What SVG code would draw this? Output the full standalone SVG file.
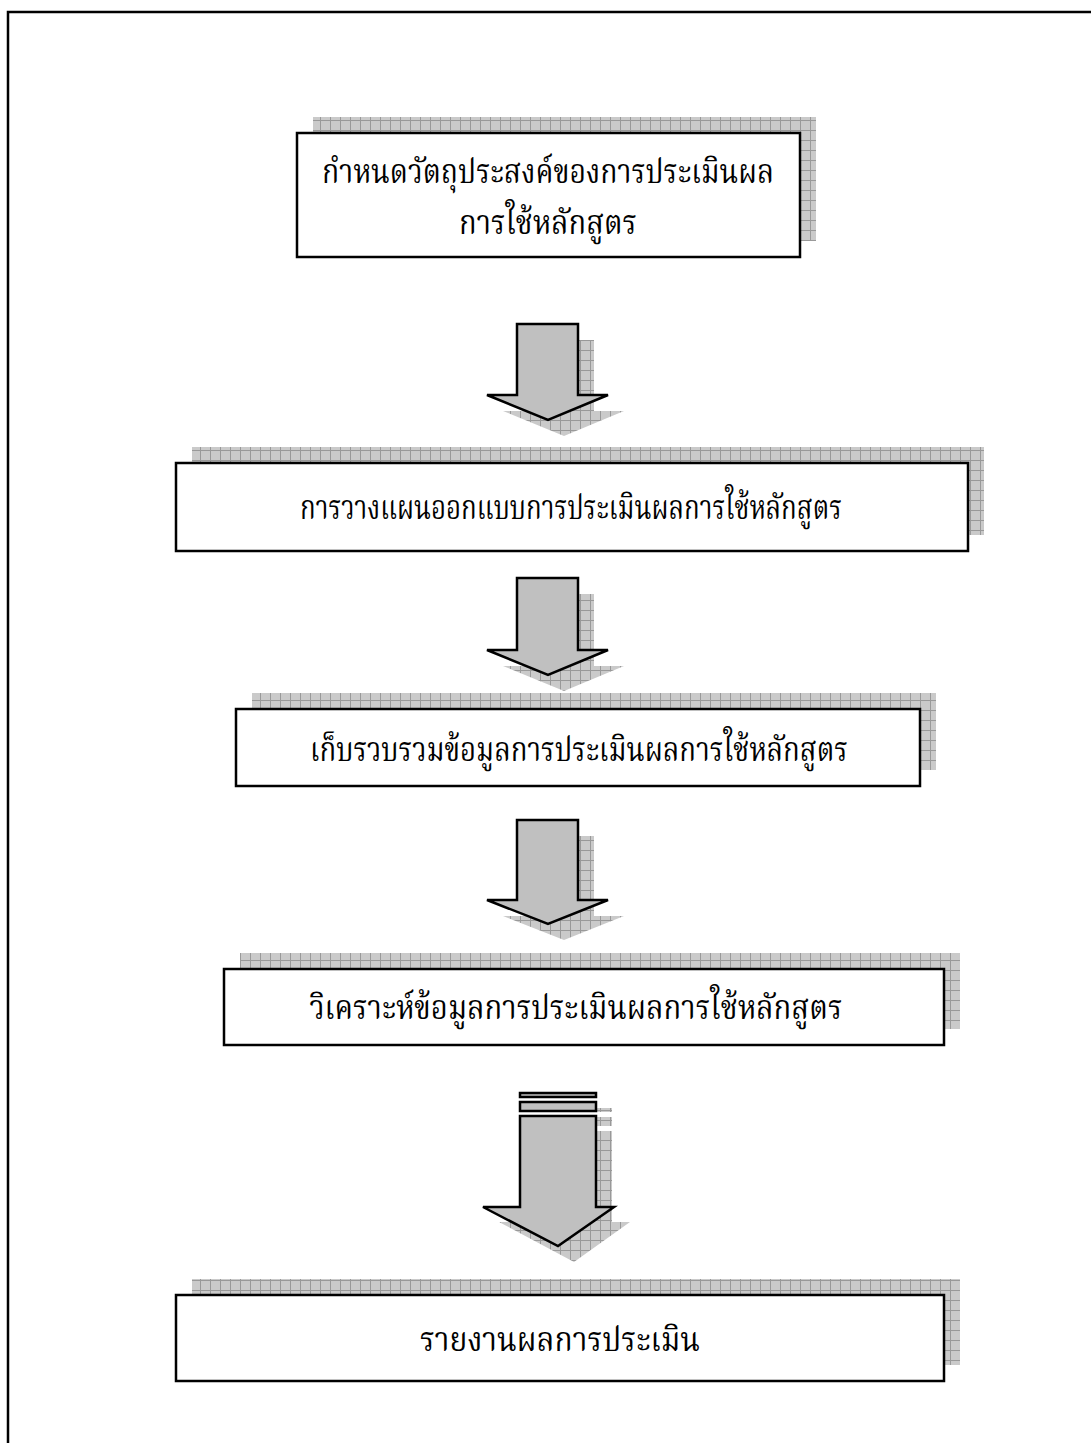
<svg xmlns="http://www.w3.org/2000/svg" width="1091" height="1443" viewBox="0 0 1091 1443">
<style>
.box{fill:#fff;stroke:#000;stroke-width:2.5}
.shadow{fill:url(#grid)}
.arrow{fill:#c0c0c0;stroke:#000;stroke-width:2.5;stroke-linejoin:miter}
.lbl{font-family:"Noto Serif Thai","Noto Sans Thai","Tlwg Typo","Garuda","Loma","Liberation Serif","DejaVu Sans",serif;font-size:33px;fill:#000;text-anchor:middle}
</style>
<defs>
<pattern id="grid" width="10" height="10" patternUnits="userSpaceOnUse">
<rect width="10" height="10" fill="#cacaca"/>
<path d="M0,0.5H10M0.5,0V10" stroke="#999" stroke-width="1"/>
</pattern>
</defs>
<rect width="1091" height="1443" fill="#fff"/>
<path d="M8,1443V12H1091" fill="none" stroke="#000" stroke-width="2.5"/>

<g id="node1">
<rect class="shadow" x="313" y="117" width="503" height="124"/>
<rect class="box" x="297" y="133" width="503" height="124"/>
<text class="lbl" x="548" y="183" textLength="452" lengthAdjust="spacingAndGlyphs">กำหนดวัตถุประสงค์ของการประเมินผล</text>
<text class="lbl" x="548" y="234" textLength="178" lengthAdjust="spacingAndGlyphs">การใช้หลักสูตร</text>
</g>

<g id="node2">
<rect class="shadow" x="192" y="447" width="792" height="88"/>
<rect class="box" x="176" y="463" width="792" height="88"/>
<text class="lbl" x="571" y="519" textLength="542" lengthAdjust="spacingAndGlyphs">การวางแผนออกแบบการประเมินผลการใช้หลักสูตร</text>
</g>

<g id="node3">
<rect class="shadow" x="252" y="693" width="684" height="77"/>
<rect class="box" x="236" y="709" width="684" height="77"/>
<text class="lbl" x="579" y="761" textLength="538" lengthAdjust="spacingAndGlyphs">เก็บรวบรวมข้อมูลการประเมินผลการใช้หลักสูตร</text>
</g>

<g id="node4">
<rect class="shadow" x="240" y="953" width="720" height="76"/>
<rect class="box" x="224" y="969" width="720" height="76"/>
<text class="lbl" x="576" y="1019" textLength="533" lengthAdjust="spacingAndGlyphs">วิเคราะห์ข้อมูลการประเมินผลการใช้หลักสูตร</text>
</g>

<g id="node5">
<rect class="shadow" x="192" y="1279" width="768" height="86"/>
<rect class="box" x="176" y="1295" width="768" height="86"/>
<text class="lbl" x="560" y="1351" textLength="280" lengthAdjust="spacingAndGlyphs">รายงานผลการประเมิน</text>
</g>

<g id="connectors">
<g id="arrow1">
<path class="shadow" d="M533,340H594V411H624L564,436L503,411H533Z"/>
<path class="arrow" d="M517,324H578V395H608L548,420L487,395H517Z"/>
</g>
<g id="arrow2">
<path class="shadow" d="M533,594H594V666H624L564,691L503,666H533Z"/>
<path class="arrow" d="M517,578H578V650H608L548,675L487,650H517Z"/>
</g>
<g id="arrow3">
<path class="shadow" d="M533,836H594V916H624L564,940L503,916H533Z"/>
<path class="arrow" d="M517,820H578V900H608L548,924L487,900H517Z"/>
</g>
<g id="arrow4">
<rect class="shadow" x="536" y="1108" width="76" height="4"/>
<rect class="shadow" x="536" y="1117" width="76" height="9"/>
<path class="shadow" d="M536,1131H612V1222H630L574,1262L499,1222H536Z"/>
<rect class="arrow" x="520" y="1093" width="76" height="4"/>
<rect class="arrow" x="520" y="1102" width="76" height="9"/>
<path class="arrow" d="M520,1116H596V1207H614L558,1246L483,1207H520Z"/>
</g>
</g>
</svg>
